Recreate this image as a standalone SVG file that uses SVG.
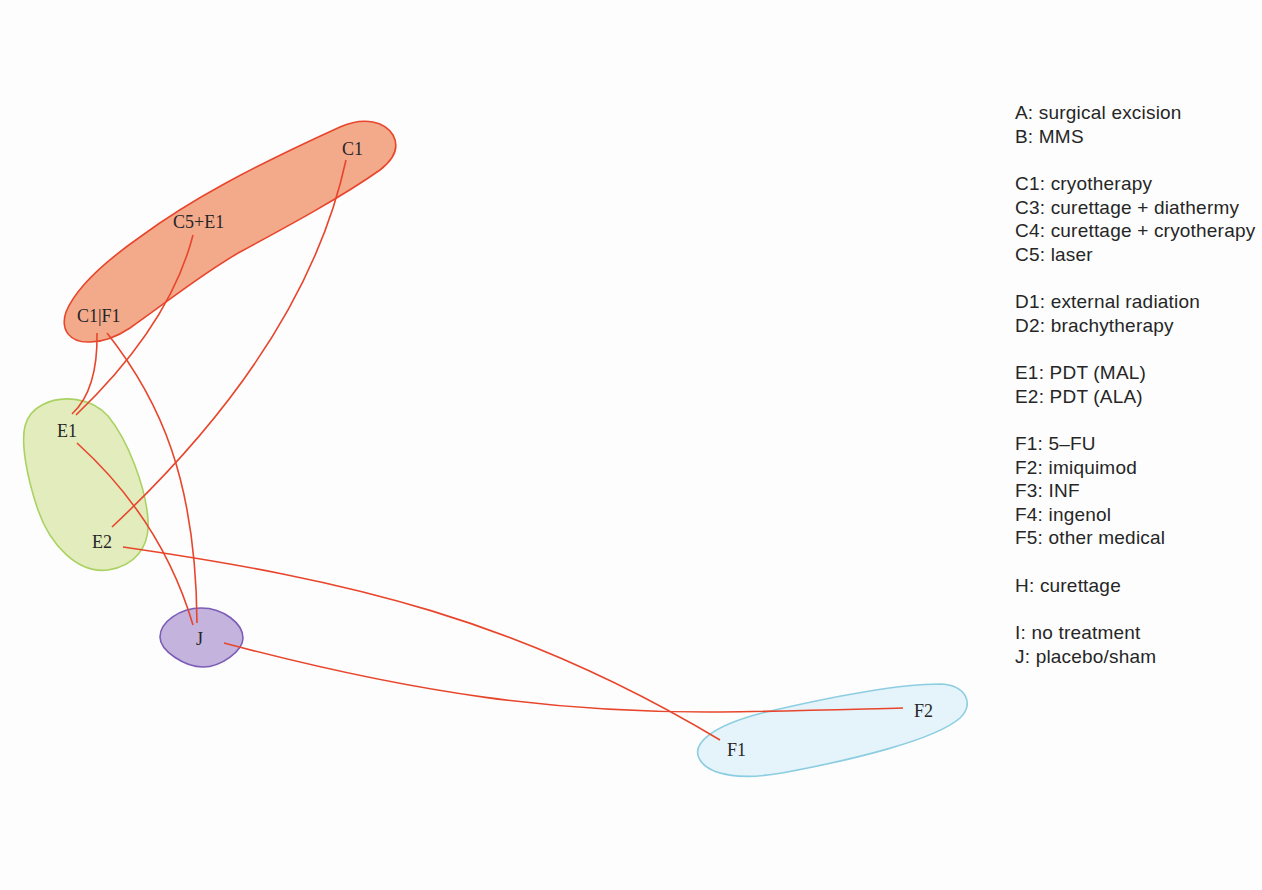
<svg xmlns="http://www.w3.org/2000/svg" width="1262" height="890" viewBox="0 0 1262 890">
<style>
.lbl{font-family:"Liberation Serif","Times New Roman",serif;font-size:18px;fill:#262626}
.leg{font-family:"Liberation Sans",Arial,sans-serif;font-size:19px;letter-spacing:0.2px;fill:#262626}
.edge{fill:none;stroke:#e8462c;stroke-width:1.6}
</style>
<rect width="1262" height="890" fill="#fdfdfd"/>
<g id="group-C">
<path d="M 90,342 C 70,343 60,330 66,312 C 75,290 100,265 140,237 C 190,200 250,168 340,127 C 365,116 385,122 393,135 C 400,148 393,160 380,170 C 340,198 290,225 240,252 C 200,275 170,300 130,328 C 118,336 104,342 90,342 Z" fill="#f3aa8b" stroke="#e8462c" stroke-width="1.6"/>
</g>
<g id="group-E">
<path d="M 42,405 C 62,394 92,398 108,416 C 128,440 146,488 148,520 C 150,548 134,566 108,570 C 78,574 50,545 38,510 C 26,475 21,442 25,426 C 28,415 34,409 42,405 Z" fill="#e3ecbd" stroke="#a9d262" stroke-width="1.6"/>
</g>
<g id="group-J">
<path d="M 201,608 C 224,608 243,624 243,638 C 243,651 221,667 203,667 C 185,667 160,651 160,637 C 160,622 180,608 201,608 Z" fill="#c4b3dd" stroke="#7b5cb6" stroke-width="1.6"/>
</g>
<g id="group-F">
<path d="M 700,760 C 690,744 712,726 762,713 C 830,697 900,684 940,684 C 966,685 975,704 960,718 C 935,740 852,760 782,773 C 742,780 710,776 700,760 Z" fill="#e5f3fa" stroke="#8ccde1" stroke-width="1.6"/>
</g>
<g id="connectors">
<path class="edge" d="M 346,160 Q 306,345 112,527"/>
<path class="edge" d="M 193,235 Q 170,325 76,415"/>
<path class="edge" d="M 97,333 Q 98,390 72,414"/>
<path class="edge" d="M 107,333 C 160,400 196,480 197,623"/>
<path class="edge" d="M 77,443 Q 162,520 193,625"/>
<path class="edge" d="M 123,547 C 350,580 520,620 720,740"/>
<path class="edge" d="M 224,643 C 420,695 560,713 720,712 C 800,711 860,709 903,708"/>
</g>
<g id="node-C1"><text class="lbl" x="342" y="155">C1</text></g>
<g id="node-C5E1"><text class="lbl" x="173" y="228">C5+E1</text></g>
<g id="node-C1F1"><text class="lbl" x="77" y="322">C1|F1</text></g>
<g id="node-E1"><text class="lbl" x="57" y="437">E1</text></g>
<g id="node-E2"><text class="lbl" x="92" y="548">E2</text></g>
<g id="node-J"><text class="lbl" x="196" y="645">J</text></g>
<g id="node-F1"><text class="lbl" x="727" y="756">F1</text></g>
<g id="node-F2"><text class="lbl" x="914" y="717">F2</text></g>
<g id="legend">
<text class="leg" x="1015" y="119">A: surgical excision</text>
<text class="leg" x="1015" y="142.5">B: MMS</text>
<text class="leg" x="1015" y="190">C1: cryotherapy</text>
<text class="leg" x="1015" y="213.5">C3: curettage + diathermy</text>
<text class="leg" x="1015" y="237">C4: curettage + cryotherapy</text>
<text class="leg" x="1015" y="260.5">C5: laser</text>
<text class="leg" x="1015" y="308">D1: external radiation</text>
<text class="leg" x="1015" y="331.5">D2: brachytherapy</text>
<text class="leg" x="1015" y="379">E1: PDT (MAL)</text>
<text class="leg" x="1015" y="402.5">E2: PDT (ALA)</text>
<text class="leg" x="1015" y="450">F1: 5–FU</text>
<text class="leg" x="1015" y="473.5">F2: imiquimod</text>
<text class="leg" x="1015" y="497">F3: INF</text>
<text class="leg" x="1015" y="520.5">F4: ingenol</text>
<text class="leg" x="1015" y="544">F5: other medical</text>
<text class="leg" x="1015" y="591.5">H: curettage</text>
<text class="leg" x="1015" y="639">I: no treatment</text>
<text class="leg" x="1015" y="662.5">J: placebo/sham</text>
</g>
</svg>
